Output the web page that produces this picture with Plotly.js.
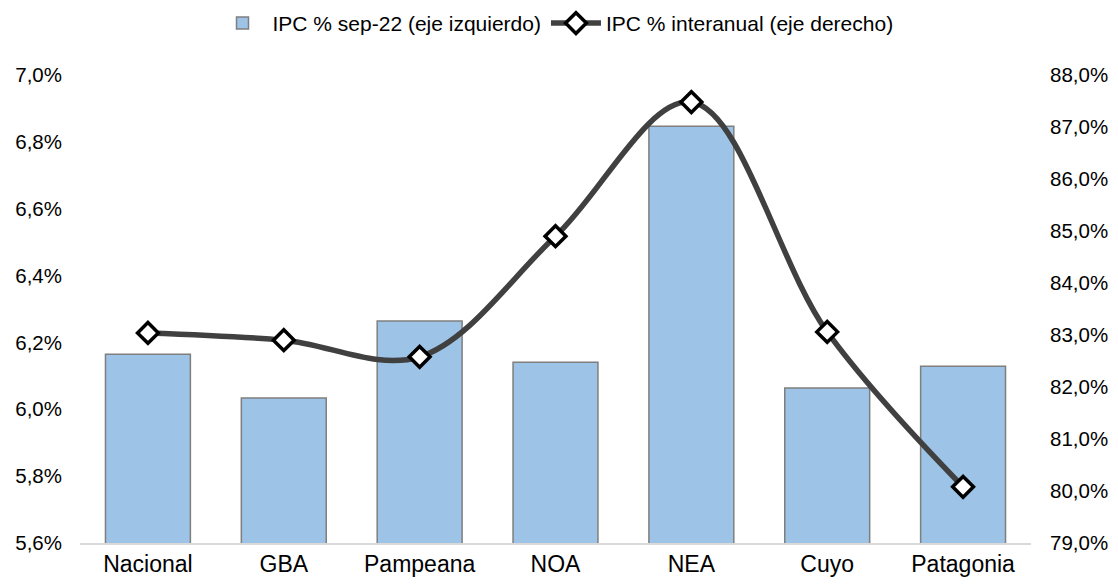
<!DOCTYPE html>
<html>
<head>
<meta charset="utf-8">
<script src="https://cdn.plot.ly/plotly-3.0.1.min.js"></script>
<style>html,body{margin:0;padding:0;background:#fff;}#chart{width:1118px;height:588px;}</style>
</head>
<body>
<div id="chart"></div>
<script>
var categories = ["Nacional", "GBA", "Pampeana", "NOA", "NEA", "Cuyo", "Patagonia"];
var ipcMensual = [6.165, 6.034, 6.264, 6.141, 6.847, 6.064, 6.129];
var ipcInteranual = [83.04, 82.90, 82.58, 84.90, 87.48, 83.06, 80.08];
var leftTicks = [5.6, 5.8, 6.0, 6.2, 6.4, 6.6, 6.8, 7.0];
var rightTicks = [79, 80, 81, 82, 83, 84, 85, 86, 87, 88];

var font = "Liberation Sans, Arial, sans-serif";

var traces = [
  {
    type: "bar",
    name: "IPC % sep-22 (eje izquierdo)",
    x: categories,
    y: ipcMensual,
    yaxis: "y",
    marker: {color: "#9DC3E6", line: {color: "#7F7F7F", width: 1.5}}
  },
  {
    type: "scatter",
    mode: "lines+markers",
    name: "IPC % interanual (eje derecho)",
    x: categories,
    y: ipcInteranual,
    yaxis: "y2",
    line: {color: "#404040", width: 5.5, shape: "spline", smoothing: 1},
    marker: {symbol: "diamond", size: 16, color: "#ffffff", line: {color: "#000000", width: 3.5}}
  }
];

var layout = {
  width: 1118,
  height: 588,
  separators: ",.",
  margin: {l: 80, r: 87, t: 75, b: 45},
  paper_bgcolor: "#ffffff",
  plot_bgcolor: "#ffffff",
  font: {family: font, size: 20, color: "#000000"},
  bargap: 0.375,
  showlegend: true,
  legend: {
    orientation: "h",
    x: 0.5, xanchor: "center",
    y: 0.995, yref: "container", yanchor: "top",
    font: {family: font, size: 21, color: "#000000"},
    itemwidth: 50,
    tracegroupgap: 0,
    traceorder: "normal"
  },
  xaxis: {
    showgrid: false,
    showline: true,
    linecolor: "#D9D9D9",
    linewidth: 1.5,
    ticks: "",
    tickfont: {family: font, size: 23, color: "#000000"},
    zeroline: false
  },
  yaxis: {
    range: [5.6, 7.0],
    tickvals: leftTicks,
    ticktext: leftTicks.map(function(v){return v.toFixed(1).replace(".", ",") + "%";}),
    showgrid: false,
    zeroline: false,
    showline: false,
    ticks: "",
    ticklabelstandoff: 17,
    tickfont: {family: font, size: 20.5, color: "#000000"}
  },
  yaxis2: {
    range: [79, 88],
    overlaying: "y",
    side: "right",
    tickvals: rightTicks,
    ticktext: rightTicks.map(function(v){return v.toFixed(1).replace(".", ",") + "%";}),
    showgrid: false,
    zeroline: false,
    showline: false,
    ticks: "",
    ticklabelstandoff: 18,
    tickfont: {family: font, size: 20.5, color: "#000000"}
  }
};

Plotly.newPlot("chart", traces, layout, {displayModeBar: false, staticPlot: true});
</script>
</body>
</html>
